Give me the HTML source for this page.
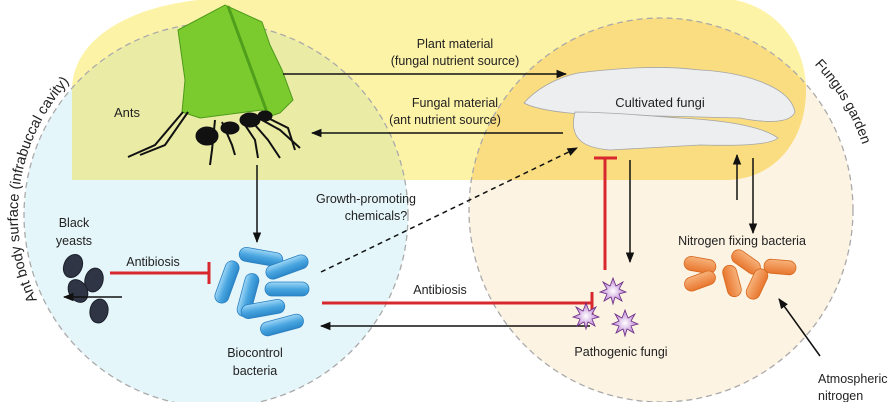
<!DOCTYPE html>
<html><head><meta charset="utf-8"><style>
html,body{margin:0;padding:0;background:#fff;}
svg{display:block;}
text{font-family:"Liberation Sans",sans-serif;font-size:12.5px;fill:#222;}
</style></head><body>
<svg width="890" height="402" viewBox="0 0 890 402" xmlns="http://www.w3.org/2000/svg">
<defs>
<clipPath id="yc"><path d="M235,-2 L715,-2 C770,-2 806,40 806,90 C806,140 775,180 725,180 L72,180 L72,90 C72,35 140,-2 235,-2 Z"/></clipPath>
<marker id="ah" viewBox="0 0 10 10" refX="9" refY="5" markerWidth="7" markerHeight="7" orient="auto"><path d="M0,1 L10,5 L0,9 Z" fill="#111"/></marker>
<linearGradient id="bg" x1="0" y1="0" x2="0" y2="1"><stop offset="0" stop-color="#9ed7f7"/><stop offset="0.5" stop-color="#4aa6e0"/><stop offset="1" stop-color="#2b86c8"/></linearGradient>
<linearGradient id="og" x1="0" y1="0" x2="0" y2="1"><stop offset="0" stop-color="#f7b27a"/><stop offset="1" stop-color="#e8762e"/></linearGradient>
<radialGradient id="pg"><stop offset="0" stop-color="#fff"/><stop offset="1" stop-color="#b67bd0"/></radialGradient>
<g id="bp"><rect x="-22" y="-7" width="44" height="14" rx="7" fill="url(#bg)" stroke="#2a7fc0" stroke-width="0.8"/></g>
<g id="op"><rect x="-16" y="-7" width="32" height="14" rx="7" fill="url(#og)" stroke="#d5681e" stroke-width="0.8"/></g>
<polygon id="st" points="0,-13 3,-5 10,-9 6,-2 13,1 6,3 9,10 2,6 0,13 -2,6 -9,10 -6,3 -13,1 -6,-2 -10,-9 -3,-5" fill="url(#pg)" stroke="#6b2d85" stroke-width="0.8"/>
<path id="lp" d="M37,300 A198,198 0 0,1 81,70" fill="none"/>
<path id="rp" d="M813,63 A212,212 0 0,1 872,192" fill="none"/>
</defs>
<circle cx="216" cy="215" r="192" fill="#e5f6fb"/>
<circle cx="661" cy="210" r="192" fill="#fcf3e2"/>
<path d="M235,-2 L715,-2 C770,-2 806,40 806,90 C806,140 775,180 725,180 L72,180 L72,90 C72,35 140,-2 235,-2 Z" fill="#fdf3a6"/>
<g clip-path="url(#yc)">
<circle cx="216" cy="215" r="192" fill="#eaeca6"/>
<circle cx="661" cy="210" r="192" fill="#fadd80"/>
</g>
<circle cx="216" cy="215" r="192" fill="none" stroke="#aaa" stroke-width="1.3" stroke-dasharray="6,4"/>
<circle cx="661" cy="210" r="192" fill="none" stroke="#aaa" stroke-width="1.3" stroke-dasharray="6,4"/>

<path d="M178,30 L225,5 L262,22 L270,45 L282,70 L293,100 L280,113 L268,117 L262,110 L200,118 L182,112 L185,80 Z" fill="#7ccb2e" stroke="#4d9a1a" stroke-width="1"/>
<path d="M228,6 L268,115" stroke="#4f9e1c" stroke-width="3"/>
<g fill="#111" stroke="#111">
<ellipse cx="207" cy="136" rx="11" ry="9"/>
<ellipse cx="230" cy="128" rx="9" ry="6"/>
<ellipse cx="250" cy="120" rx="10" ry="7"/>
<ellipse cx="265" cy="116" rx="7" ry="5"/>
<g stroke-width="2" fill="none">
<path d="M183,112 L155,145 L128,157"/><path d="M188,112 L165,145 L140,155"/>
<path d="M215,120 L212,150 L210,165"/><path d="M222,122 L232,145 L235,155"/>
<path d="M245,125 L255,140 L258,158"/><path d="M255,125 L268,140 L280,158"/>
<path d="M262,120 L280,130 L300,148"/><path d="M268,118 L288,128 L295,150"/>
</g></g>
<text x="114" y="117" style="font-size:13px">Ants</text>

<g fill="#eceef0" stroke="#a5a5a5" stroke-width="0.8">
<path d="M578,73 C620,68 660,65 700,70 C740,72 790,85 795,112 C790,125 760,122 740,118 L620,115 C590,116 540,112 524,103 C535,90 555,78 578,73 Z"/>
<path d="M575,112 C610,112 650,116 680,118 C720,120 760,125 778,138 C770,145 740,146 700,145 L610,150 C585,148 568,140 575,112 Z"/>
</g>
<text x="660" y="107" text-anchor="middle" style="font-size:13px">Cultivated fungi</text>

<line x1="283" y1="74" x2="566" y2="74" stroke="#111" stroke-width="1.5" marker-end="url(#ah)"/>
<line x1="563" y1="133" x2="312" y2="133" stroke="#111" stroke-width="1.5" marker-end="url(#ah)"/>
<text x="455" y="48" text-anchor="middle">Plant material</text>
<text x="455" y="65" text-anchor="middle">(fungal nutrient source)</text>
<text x="455" y="107" text-anchor="middle">Fungal material</text>
<text x="445" y="124" text-anchor="middle">(ant nutrient source)</text>

<line x1="257" y1="165" x2="257" y2="242" stroke="#111" stroke-width="1.5" marker-end="url(#ah)"/>
<line x1="321" y1="272" x2="577" y2="148" stroke="#111" stroke-width="1.5" stroke-dasharray="5,4" marker-end="url(#ah)"/>
<text x="366" y="203" text-anchor="middle">Growth-promoting</text>
<text x="376" y="220" text-anchor="middle">chemicals?</text>

<g fill="#2f3544" stroke="#1a1f2a">
<ellipse cx="73" cy="266" rx="9" ry="12" transform="rotate(25 73 266)"/>
<ellipse cx="94" cy="280" rx="9" ry="12" transform="rotate(15 94 280)"/>
<ellipse cx="78" cy="291" rx="9" ry="12" transform="rotate(-30 78 291)"/>
<ellipse cx="99" cy="311" rx="9" ry="12" transform="rotate(10 99 311)"/>
</g>
<text x="74" y="227" text-anchor="middle">Black</text>
<text x="74" y="245" text-anchor="middle">yeasts</text>
<text x="153" y="266" text-anchor="middle">Antibiosis</text>
<line x1="110" y1="273" x2="209" y2="273" stroke="#d8282e" stroke-width="3"/>
<line x1="209" y1="262" x2="209" y2="284" stroke="#d8282e" stroke-width="3"/>
<line x1="122" y1="297" x2="64" y2="297" stroke="#111" stroke-width="1.5" marker-end="url(#ah)"/>

<use href="#bp" transform="translate(261,257) rotate(10)"/>
<use href="#bp" transform="translate(287,267) rotate(-20)"/>
<use href="#bp" transform="translate(227,282) rotate(-70)"/>
<use href="#bp" transform="translate(248,295) rotate(-75)"/>
<use href="#bp" transform="translate(287,289)"/>
<use href="#bp" transform="translate(263,309) rotate(-10)"/>
<use href="#bp" transform="translate(282,325) rotate(-15)"/>
<text x="255" y="357" text-anchor="middle">Biocontrol</text>
<text x="255" y="375" text-anchor="middle">bacteria</text>

<text x="440" y="294" text-anchor="middle">Antibiosis</text>
<line x1="322" y1="303" x2="592" y2="303" stroke="#d8282e" stroke-width="3"/>
<line x1="592" y1="292" x2="592" y2="314" stroke="#d8282e" stroke-width="3"/>
<line x1="590" y1="326" x2="321" y2="326" stroke="#111" stroke-width="1.5" marker-end="url(#ah)"/>

<use href="#st" transform="translate(613,291)"/>
<use href="#st" transform="translate(586,316)"/>
<use href="#st" transform="translate(625,323)"/>
<text x="621" y="356" text-anchor="middle">Pathogenic fungi</text>
<line x1="605" y1="270" x2="605" y2="158" stroke="#d8282e" stroke-width="3"/>
<line x1="594" y1="158" x2="617" y2="158" stroke="#d8282e" stroke-width="3"/>
<line x1="630" y1="160" x2="630" y2="262" stroke="#111" stroke-width="1.5" marker-end="url(#ah)"/>
<line x1="737" y1="200" x2="737" y2="155" stroke="#111" stroke-width="1.5" marker-end="url(#ah)"/>
<line x1="753" y1="158" x2="753" y2="233" stroke="#111" stroke-width="1.5" marker-end="url(#ah)"/>
<text x="742" y="245" text-anchor="middle">Nitrogen fixing bacteria</text>

<use href="#op" transform="translate(700,265) rotate(10)"/>
<use href="#op" transform="translate(700,281) rotate(-20)"/>
<use href="#op" transform="translate(732,281) rotate(75)"/>
<use href="#op" transform="translate(746,262) rotate(35)"/>
<use href="#op" transform="translate(757,284) rotate(-65)"/>
<use href="#op" transform="translate(780,267) rotate(5)"/>
<line x1="820" y1="356" x2="779" y2="299" stroke="#111" stroke-width="1.5" marker-end="url(#ah)"/>
<text x="818" y="383">Atmospheric</text>
<text x="818" y="400">nitrogen</text>

<text style="font-size:14.5px"><textPath href="#lp">Ant body surface (infrabuccal cavity)</textPath></text>
<text style="font-size:14px"><textPath href="#rp" startOffset="2">Fungus garden</textPath></text>
</svg>
</body></html>
